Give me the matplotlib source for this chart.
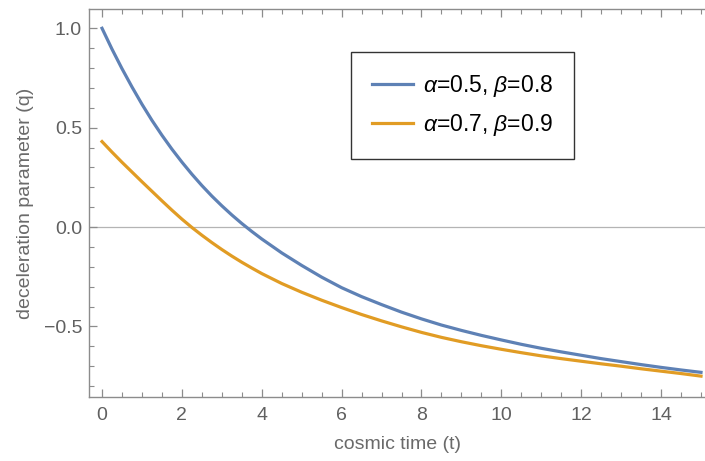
import matplotlib
matplotlib.use("Agg")
import matplotlib.pyplot as plt
from matplotlib.ticker import MultipleLocator

# values
t = [0.0, 0.25, 0.5, 0.75, 1.0, 1.25, 1.5, 1.75, 2.0, 2.25, 2.5, 2.75, 3.0, 3.25, 3.5, 3.75,
     4.0, 4.5, 5.0, 5.5, 6.0, 6.5, 7.0, 7.5, 8.0, 8.5, 9.0, 9.5, 10.0, 10.5, 11.0, 11.5,
     12.0, 12.5, 13.0, 13.5, 14.0, 14.5, 15.0]
q_blue = [1.00, 0.895, 0.797, 0.705, 0.618, 0.537, 0.462, 0.392, 0.327, 0.266, 0.209, 0.156,
          0.107, 0.061, 0.018, -0.022, -0.06, -0.13, -0.193, -0.252, -0.305, -0.35, -0.39,
          -0.428, -0.462, -0.493, -0.52, -0.545, -0.568, -0.59, -0.61, -0.628, -0.645,
          -0.662, -0.677, -0.692, -0.706, -0.719, -0.731]
q_orange = [0.43, 0.377, 0.326, 0.277, 0.228, 0.18, 0.132, 0.085, 0.04, -0.002, -0.041, -0.078,
            -0.113, -0.146, -0.177, -0.206, -0.234, -0.284, -0.328, -0.368, -0.405, -0.44,
            -0.472, -0.502, -0.53, -0.555, -0.577, -0.597, -0.615, -0.632, -0.648, -0.662,
            -0.675, -0.688, -0.70, -0.713, -0.725, -0.737, -0.75]
label_blue = r"$\alpha$=0.5, $\beta$=0.8"
label_orange = r"$\alpha$=0.7, $\beta$=0.9"

plt.rcParams['font.family'] = ['Liberation Sans', 'DejaVu Sans']
plt.rcParams['mathtext.fontset'] = 'custom'
plt.rcParams['mathtext.rm'] = 'Liberation Sans'
plt.rcParams['mathtext.it'] = 'Liberation Sans:italic'

fig = plt.figure(figsize=(7.05, 4.61), dpi=100)
ax = fig.add_axes([89/705, 1-397/461, 1-89/705, (397-9)/461])

ax.axhline(0, color='#b4b4b4', lw=0.9, zorder=1)
ax.plot(t, q_blue, color='#5E81B5', lw=2.3, label=label_blue, zorder=3)
ax.plot(t, q_orange, color='#E19C24', lw=2.3, label=label_orange, zorder=2)

ax.set_xlim(-0.326, 15.1)
ax.set_ylim(-0.855, 1.097)

ax.xaxis.set_major_locator(MultipleLocator(2))
ax.xaxis.set_minor_locator(MultipleLocator(0.5))
ax.yaxis.set_major_locator(MultipleLocator(0.5))
ax.yaxis.set_minor_locator(MultipleLocator(0.1))
ax.yaxis.set_major_formatter(plt.FuncFormatter(lambda v, p: f"{v:.1f}".replace('-', '\u2212')))

gray = '#8c8c8c'
for s in ['left', 'bottom', 'top']:
    ax.spines[s].set_color(gray)
    ax.spines[s].set_linewidth(1.0)
ax.spines['right'].set_visible(False)

ax.tick_params(which='both', direction='in', color=gray, top=True, right=False,
               labelsize=14, labelcolor='#606060')
ax.tick_params(which='major', length=6, width=0.9)
ax.tick_params(which='minor', length=3.5, width=0.8)
ax.tick_params(axis='x', pad=7)
ax.tick_params(axis='y', pad=5)

ax.set_xlabel("cosmic time (t)", fontsize=14, color='#6a6a6a', labelpad=9)
ax.set_ylabel("deceleration parameter (q)", fontsize=14, color='#6a6a6a', labelpad=7)

leg = ax.legend(loc='upper left', bbox_to_anchor=(351/705, 1-52/461),
                bbox_transform=fig.transFigure, fontsize=16.5, frameon=True,
                fancybox=False, edgecolor='black', handlelength=1.8,
                handletextpad=0.45, labelspacing=0.6, borderpad=0.9, borderaxespad=0)
leg.get_frame().set_linewidth(1.0)
for txt in leg.get_texts():
    txt.set_color('black')

fig.savefig("out.png", dpi=100)
